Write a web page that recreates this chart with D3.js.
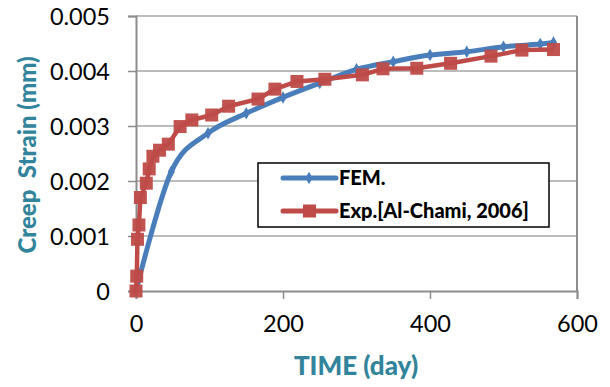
<!DOCTYPE html>
<html><head><meta charset="utf-8">
<script src="https://cdn.jsdelivr.net/npm/d3@7"></script>
<style>body{margin:0;background:#fff}svg{display:block}</style>
</head><body>
<script>
// Data
const femTime   = [0, 48, 98, 150, 200, 250, 300, 350, 400, 450, 500, 550, 568];
const femStrain = [0, 0.00217, 0.00287, 0.00323, 0.00352, 0.00378, 0.00403, 0.00417, 0.00429, 0.00435, 0.00444, 0.00449, 0.00452];
const expTime   = [0, 1, 2, 4, 6, 14, 18, 23, 32, 44, 60, 76, 103, 126, 166, 189, 219, 257, 308, 336, 382, 428, 483, 525, 568];
const expStrain = [0, 0.00027, 0.00094, 0.0012, 0.0017, 0.00196, 0.00222, 0.00245, 0.00256, 0.00267, 0.00299, 0.00311, 0.0032, 0.00336, 0.00349, 0.00367, 0.00381, 0.00385, 0.00393, 0.00404, 0.00405, 0.00414, 0.00427, 0.00438, 0.00439];
const xTicks = [0, 200, 400, 600];
const yTicks = [0, 0.001, 0.002, 0.003, 0.004, 0.005];
const yTickLabels = ["0", "0.001", "0.002", "0.003", "0.004", "0.005"];
const seriesNames = ["FEM.", "Exp.[Al-Chami, 2006]"];

const W = 610, H = 387;
const svg = d3.select("body").append("svg").attr("width", W).attr("height", H);
const x = d3.scaleLinear().domain([0, 600]).range([136, 577]);
const y = d3.scaleLinear().domain([0, 0.005]).range([291, 16]);
const font = "Lato, 'Open Sans', sans-serif";
const teal = "#31849B";

// gridlines
svg.append("g").selectAll("line").data(yTicks.filter(d => d > 0)).join("line")
  .attr("x1", x(0)).attr("x2", x(600)).attr("y1", d => y(d)).attr("y2", d => y(d))
  .attr("stroke", "#A6A6A6").attr("stroke-width", 1.5);
// right border
svg.append("line").attr("x1", x(600)).attr("x2", x(600)).attr("y1", y(0.005)).attr("y2", y(0))
  .attr("stroke", "#8C8C8C").attr("stroke-width", 2);

// y axis
const yAxis = d3.axisLeft(y).tickValues(yTicks).tickSize(8).tickPadding(18)
  .tickFormat((d, i) => yTickLabels[i]);
const gy = svg.append("g").attr("transform", `translate(${x(0)},0)`).call(yAxis);
gy.select(".domain").attr("stroke", "#8C8C8C").attr("stroke-width", 2);
gy.selectAll(".tick line").attr("stroke", "#8C8C8C").attr("stroke-width", 1.5);
gy.selectAll(".tick text").attr("font-family", font).attr("font-size", 23.5).attr("fill", "#000").attr("dy", "0.35em");

// x axis
const xAxis = d3.axisBottom(x).tickValues(xTicks).tickSize(8).tickPadding(16).tickFormat(d3.format("d"));
const gx = svg.append("g").attr("transform", `translate(0,${y(0)})`).call(xAxis);
gx.select(".domain").attr("stroke", "#8C8C8C").attr("stroke-width", 2);
gx.selectAll(".tick line").attr("stroke", "#8C8C8C").attr("stroke-width", 1.5);
gx.selectAll(".tick text").attr("font-family", font).attr("font-size", 23.5).attr("fill", "#000");

// titles
svg.append("text").attr("x", 356).attr("y", 375).attr("text-anchor", "middle")
  .attr("font-family", font).attr("font-weight", 900).attr("font-size", 26).attr("fill", teal)
  .text("TIME (day)");
svg.append("text").attr("text-anchor", "middle")
  .attr("font-family", font).attr("font-weight", 900).attr("font-size", 24).attr("fill", teal)
  .attr("transform", "translate(36,155) rotate(-90)")
  .text("Creep\u00A0 Strain (mm)");

// series
const blue = "#4A7EBB", red = "#BE4B48";
const fem = femTime.map((t, i) => [t, femStrain[i]]);
const exp = expTime.map((t, i) => [t, expStrain[i]]);
const lineSmooth = d3.line().x(d => x(d[0])).y(d => y(d[1])).curve(d3.curveCardinal.tension(0));
const lineStraight = d3.line().x(d => x(d[0])).y(d => y(d[1]));

svg.append("path").datum(fem).attr("d", lineSmooth).attr("fill", "none")
  .attr("stroke", blue).attr("stroke-width", 5).attr("stroke-linejoin", "round").attr("stroke-linecap", "round");
const diamond = d3.symbol().type(d3.symbolDiamond).size(45);
svg.append("g").selectAll("path").data(fem).join("path")
  .attr("transform", d => `translate(${x(d[0])},${y(d[1])})`).attr("d", diamond).attr("fill", blue);

svg.append("path").datum(exp).attr("d", lineStraight).attr("fill", "none")
  .attr("stroke", red).attr("stroke-width", 4.5).attr("stroke-linejoin", "round");
svg.append("g").selectAll("rect").data(exp).join("rect")
  .attr("x", d => x(d[0]) - 6.5).attr("y", d => y(d[1]) - 6.5).attr("width", 13).attr("height", 13)
  .attr("fill", red).attr("opacity", 0.95);

// legend
const lg = svg.append("g");
lg.append("rect").attr("x", 258).attr("y", 163).attr("width", 291).attr("height", 64)
  .attr("fill", "#fff").attr("stroke", "#000").attr("stroke-width", 1.5);
const legendRows = [{name: seriesNames[0], color: blue, type: "diamond", yy: 178},
                    {name: seriesNames[1], color: red, type: "square", yy: 211}];
legendRows.forEach(r => {
  lg.append("line").attr("x1", 283).attr("x2", 336).attr("y1", r.yy).attr("y2", r.yy)
    .attr("stroke", r.color).attr("stroke-width", 5).attr("stroke-linecap", "round");
  if (r.type === "diamond") {
    lg.append("path").attr("transform", `translate(309,${r.yy})`).attr("d", diamond).attr("fill", r.color);
  } else {
    lg.append("rect").attr("x", 303).attr("y", r.yy - 6.5).attr("width", 13).attr("height", 13).attr("fill", r.color);
  }
  lg.append("text").attr("x", 339).attr("y", r.yy).attr("dy", "0.36em")
    .attr("font-family", font).attr("font-weight", 900).attr("font-size", 20).attr("fill", "#000")
    .text(r.name);
});
</script>
</body></html>
